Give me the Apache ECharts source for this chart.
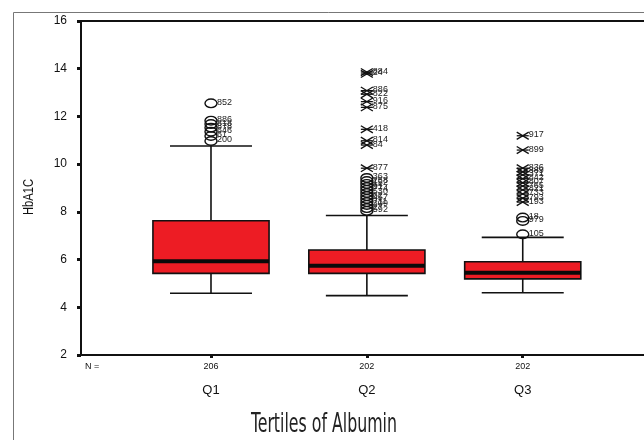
<!DOCTYPE html>
<html>
<head>
<meta charset="utf-8">
<script src="https://cdn.jsdelivr.net/npm/echarts@6/dist/echarts.min.js"></script>
<style>
  html, body { margin: 0; padding: 0; background: #fff; }
  #chart { width: 644px; height: 440px; }
</style>
</head>
<body>
<div id="chart"></div>
<script>
// Box summaries of HbA1C per albumin tertile
const categories = ['Q1', 'Q2', 'Q3'];
const groupN = [206, 202, 202];
const whiskerLow = [4.59, 4.49, 4.61];
const quartile1 = [5.42, 5.42, 5.19];
const medians = [5.93, 5.74, 5.45];
const quartile3 = [7.63, 6.40, 5.91];
const whiskerHigh = [10.76, 7.85, 6.93];

// Outliers (circles) and extremes (asterisks) with case labels
const q1Outliers = [12.55, 11.82, 11.68, 11.53, 11.36, 11.18, 10.97];
const q1OutlierIds = ['852', '886', '818', '878', '646', '61', '200'];

const q2Extremes = [13.86, 13.78, 13.08, 12.93, 12.62, 12.38, 11.46, 10.98, 10.80, 9.83];
const q2ExtremeIds = ['884', '24', '886', '822', '916', '875', '418', '814', '84', '877'];
const q2Outliers = [9.42, 9.29, 9.17, 9.04, 8.92, 8.79, 8.66, 8.54, 8.41, 8.29, 8.16, 8.04];
const q2OutlierIds = ['363', '258', '152', '91', '774', '530', '62', '457', '711', '309', '27', '592'];

const q3Extremes = [11.19, 10.59, 9.83, 9.68, 9.55, 9.39, 9.22, 9.08, 8.92, 8.75, 8.57, 8.41];
const q3ExtremeIds = ['917', '899', '836', '889', '371', '842', '807', '765', '821', '733', '793', '193'];
const q3Outliers = [7.76, 7.62, 7.06];
const q3OutlierIds = ['18', '979', '105'];

const yMin = 2, yMax = 16, yStep = 2;

// ---- build series data ----
const boxData = categories.map((c, i) => [i + 1, whiskerLow[i], quartile1[i], medians[i], quartile3[i], whiskerHigh[i]]);

const pointData = [];
const pointIds = [];
function addPoints(groupIdx, values, ids, kind) {
  values.forEach((v, k) => { pointData.push([groupIdx + 1, v, kind]); pointIds.push(ids[k]); });
}
addPoints(0, q1Outliers, q1OutlierIds, 0);
addPoints(1, q2Extremes, q2ExtremeIds, 1);
addPoints(1, q2Outliers, q2OutlierIds, 0);
addPoints(2, q3Extremes, q3ExtremeIds, 1);
addPoints(2, q3Outliers, q3OutlierIds, 0);

const BOX_WIDTH = 0.745;   // in category units
const CAP_WIDTH = 0.526;

function renderBox(params, api) {
  const x = api.value(0);
  const lo = api.coord([x, api.value(1)]);
  const b1 = api.coord([x, api.value(2)]);
  const md = api.coord([x, api.value(3)]);
  const b3 = api.coord([x, api.value(4)]);
  const hi = api.coord([x, api.value(5)]);
  const half = api.size([BOX_WIDTH, 0])[0] / 2;
  const cap = api.size([CAP_WIDTH, 0])[0] / 2;
  const cx = md[0];
  const stroke = { stroke: '#111', lineWidth: 1.6 };
  return {
    type: 'group',
    children: [
      { type: 'line', shape: { x1: cx, y1: hi[1], x2: cx, y2: b3[1] }, style: stroke },
      { type: 'line', shape: { x1: cx, y1: b1[1], x2: cx, y2: lo[1] }, style: stroke },
      { type: 'line', shape: { x1: cx - cap, y1: hi[1], x2: cx + cap, y2: hi[1] }, style: stroke },
      { type: 'line', shape: { x1: cx - cap, y1: lo[1], x2: cx + cap, y2: lo[1] }, style: stroke },
      { type: 'rect', shape: { x: cx - half, y: b3[1], width: half * 2, height: b1[1] - b3[1] },
        style: { fill: '#ED1C24', stroke: '#111', lineWidth: 1.6 } },
      { type: 'line', shape: { x1: cx - half, y1: md[1], x2: cx + half, y2: md[1] },
        style: { stroke: '#0a0a0a', lineWidth: 4 } }
    ]
  };
}

function renderPoint(params, api) {
  const p = api.coord([api.value(0), api.value(1)]);
  const kind = api.value(2);
  const x = p[0], y = p[1];
  const children = [];
  if (kind === 0) {
    children.push({ type: 'ellipse', shape: { cx: x, cy: y, rx: 6, ry: 4.3 },
      style: { fill: 'none', stroke: '#111', lineWidth: 1.4 } });
  } else {
    const s = { stroke: '#111', lineWidth: 1.3 };
    children.push(
      { type: 'line', shape: { x1: x - 6, y1: y - 3.6, x2: x + 6, y2: y + 3.6 }, style: s },
      { type: 'line', shape: { x1: x - 6, y1: y + 3.6, x2: x + 6, y2: y - 3.6 }, style: s },
      { type: 'line', shape: { x1: x - 6, y1: y, x2: x + 6, y2: y }, style: s }
    );
  }
  children.push({ type: 'text', x: x + 6, y: y - 1,
    style: { text: pointIds[params.dataIndex], font: '9px Arial, "Liberation Sans", sans-serif',
             fill: '#222', verticalAlign: 'middle', align: 'left' } });
  return { type: 'group', children };
}

function measure(str, font) {
  const ctx = document.createElement('canvas').getContext('2d');
  ctx.font = font;
  return ctx.measureText(str).width;
}

const xTitle = 'Tertiles of Albumin';
const xTitleFont = '27px "Liberation Sans Narrow", "DejaVu Sans Condensed", "Liberation Sans", sans-serif';
const xTitleScale = 146 / measure(xTitle, xTitleFont);
const yTitle = 'HbA1C';
const yTitleFont = '15px Arial, "Liberation Sans", sans-serif';
const yTitleScale = 36 / measure(yTitle, yTitleFont);

const X_MIN = 0.166, X_MAX = 3.778;

const chart = echarts.init(document.getElementById('chart'), null, { renderer: 'canvas' });

chart.setOption({
  backgroundColor: '#fff',
  animation: false,
  grid: { left: 81, top: 21, right: 0, bottom: 85, show: false },
  xAxis: [{
    type: 'value',
    min: X_MIN, max: X_MAX,
    splitLine: { show: false },
    axisLine: { show: true, onZero: false, lineStyle: { color: '#111', width: 2 } },
    axisTick: { show: true, customValues: [1, 2, 3], length: 3, lineStyle: { color: '#111', width: 3 } },
    axisLabel: {
      customValues: [1, 2, 3],
      margin: 5,
      formatter: v => {
        const i = Math.round(v) - 1;
        return `{n|${groupN[i]}}\n{q|${categories[i]}}`;
      },
      rich: {
        n: { fontSize: 9, lineHeight: 14, color: '#111', fontFamily: 'Arial, "Liberation Sans", sans-serif' },
        q: { fontSize: 13, lineHeight: 32, color: '#111', fontFamily: 'Arial, "Liberation Sans", sans-serif' }
      }
    }
  }, {
    // top edge of the plot frame
    type: 'value', position: 'top',
    min: X_MIN, max: X_MAX,
    splitLine: { show: false },
    axisLine: { show: true, onZero: false, lineStyle: { color: '#111', width: 2 } },
    axisTick: { show: false },
    axisLabel: { show: false }
  }],
  yAxis: {
    type: 'value',
    min: yMin, max: yMax, interval: yStep,
    splitLine: { show: false },
    axisLine: { show: true, onZero: false, lineStyle: { color: '#111', width: 2 } },
    axisTick: { show: true, length: 4, lineStyle: { color: '#111', width: 3 } },
    axisLabel: { margin: 14, fontSize: 12, color: '#111', fontFamily: 'Arial, "Liberation Sans", sans-serif' }
  },
  graphic: [
    { type: 'polyline', shape: { points: [[13.5, 440], [13.5, 12.5], [644, 12.5]] },
      style: { fill: 'none', stroke: '#777', lineWidth: 1 }, silent: true },
    { type: 'text', x: 85, y: 367,
      style: { text: 'N =', font: '9px Arial, "Liberation Sans", sans-serif', fill: '#111', verticalAlign: 'middle' } },
    { type: 'text', x: 324, y: 425, scaleX: xTitleScale,
      style: { text: xTitle, font: xTitleFont, fill: '#222', align: 'center', verticalAlign: 'middle' } },
    { type: 'text', x: 29, y: 197, rotation: Math.PI / 2, scaleX: yTitleScale,
      style: { text: yTitle, font: yTitleFont, fill: '#111', align: 'center', verticalAlign: 'middle' } }
  ],
  series: [
    { type: 'custom', name: 'box', data: boxData, renderItem: renderBox,
      encode: { x: 0, y: [1, 2, 3, 4, 5] }, z: 2 },
    { type: 'custom', name: 'points', data: pointData, renderItem: renderPoint,
      encode: { x: 0, y: 1 }, z: 3 }
  ]
});
</script>
</body>
</html>
